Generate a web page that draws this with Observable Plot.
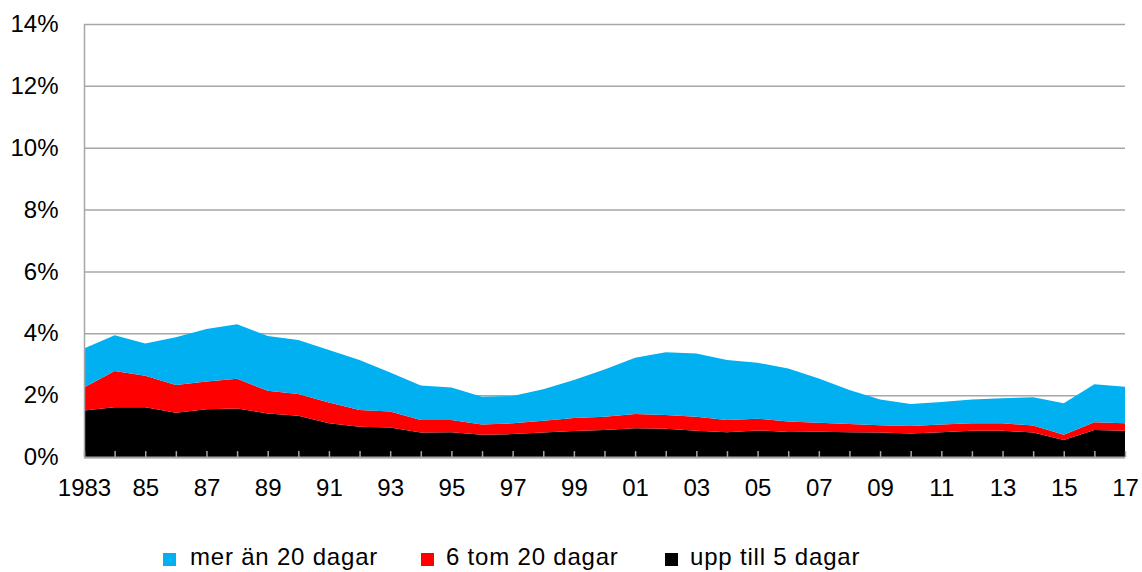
<!DOCTYPE html>
<html>
<head>
<meta charset="utf-8">
<script src="https://cdn.jsdelivr.net/npm/d3@7"></script>
<script src="https://cdn.jsdelivr.net/npm/@observablehq/plot@0.6"></script>
<style>
  html, body { margin: 0; padding: 0; background: #fff; }
  body { width: 1142px; height: 572px; position: relative; overflow: hidden; font-family: "Liberation Sans", Arial, sans-serif; }
  #chart { position: absolute; left: 0; top: 0; }
  .leg { position: absolute; top: 543px; font-size: 24px; letter-spacing: 0.8px; color: #000; white-space: nowrap; line-height: 28px; }
  .sw { position: absolute; width: 13px; height: 13px; top: 553px; }
</style>
</head>
<body>
<div id="chart"></div>
<script>
const years = [1983,1984,1985,1986,1987,1988,1989,1990,1991,1992,1993,1994,1995,1996,1997,1998,1999,2000,2001,2002,2003,2004,2005,2006,2007,2008,2009,2010,2011,2012,2013,2014,2015,2016,2017];
// percent of ... per category
const upTo5   = [1.50,1.61,1.61,1.43,1.54,1.57,1.41,1.33,1.09,0.98,0.95,0.79,0.80,0.72,0.74,0.79,0.84,0.87,0.93,0.91,0.85,0.80,0.86,0.81,0.82,0.80,0.79,0.76,0.80,0.85,0.85,0.79,0.55,0.87,0.85];
const sixTo20 = [0.75,1.17,1.02,0.90,0.90,0.96,0.73,0.71,0.67,0.54,0.52,0.41,0.40,0.33,0.35,0.38,0.42,0.43,0.46,0.45,0.45,0.40,0.38,0.34,0.29,0.27,0.24,0.24,0.25,0.24,0.24,0.23,0.17,0.25,0.24];
const over20  = [1.26,1.16,1.04,1.54,1.70,1.76,1.77,1.74,1.70,1.62,1.26,1.11,1.05,0.90,0.88,1.02,1.23,1.53,1.82,2.03,2.05,1.94,1.81,1.71,1.43,1.10,0.83,0.71,0.73,0.77,0.81,0.91,1.02,1.23,1.18];
const seriesNames = ["upp till 5 dagar", "6 tom 20 dagar", "mer än 20 dagar"];
const seriesColors = ["#000000", "#ff0000", "#00b0f0"];
const yTicks = [0,2,4,6,8,10,12,14];
const xLabelYears = [1983,1985,1987,1989,1991,1993,1995,1997,1999,2001,2003,2005,2007,2009,2011,2013,2015,2017];

const seriesValues = [upTo5, sixTo20, over20];
const data = [];
seriesNames.forEach((name, i) => {
  years.forEach((yr, j) => data.push({year: yr, value: seriesValues[i][j], series: name}));
});

const gray = "#a6a6a6";
const chart = Plot.plot({
  width: 1142,
  height: 520,
  marginLeft: 84,
  marginRight: 17,
  marginTop: 24,
  marginBottom: 63,
  style: {fontFamily: "'Liberation Sans', Arial, sans-serif", fontSize: "24px", color: "#000", background: "#fff"},
  x: {domain: [1983, 2017], label: null},
  y: {domain: [0, 14], label: null},
  color: {domain: seriesNames, range: seriesColors},
  marks: [
    Plot.ruleY(yTicks, {stroke: gray, strokeWidth: 1.5}),
    Plot.areaY(data, {x: "year", y: "value", z: "series", fill: "series", order: seriesNames}),
    Plot.ruleX([1983], {stroke: gray, strokeWidth: 1.5}),
    Plot.ruleY([0], {stroke: gray, strokeWidth: 2}),
    Plot.ruleX(years, {x: d => d, y1: 0, y2: 0.19, stroke: gray, strokeWidth: 1.5}),
    Plot.axisY({ticks: yTicks, tickFormat: d => d + "%", tickSize: 0, tickPadding: 26, fontSize: 24, label: null}),
    Plot.axisX({ticks: xLabelYears, tickFormat: d => d === 1983 ? "1983" : String(d % 100).padStart(2, "0"), tickSize: 0, tickPadding: 21, fontSize: 24, label: null})
  ]
});
document.getElementById("chart").appendChild(chart);

// legend (below the chart)
const legendItems = [
  {name: "mer än 20 dagar", color: "#00b0f0", sw: 163, tx: 190},
  {name: "6 tom 20 dagar", color: "#ff0000", sw: 421, tx: 446},
  {name: "upp till 5 dagar", color: "#000000", sw: 665, tx: 690}
];
legendItems.forEach(it => {
  const s = document.createElement("div");
  s.className = "sw"; s.style.left = it.sw + "px"; s.style.background = it.color;
  document.body.appendChild(s);
  const t = document.createElement("div");
  t.className = "leg"; t.style.left = it.tx + "px"; t.textContent = it.name;
  document.body.appendChild(t);
});
</script>
</body>
</html>
